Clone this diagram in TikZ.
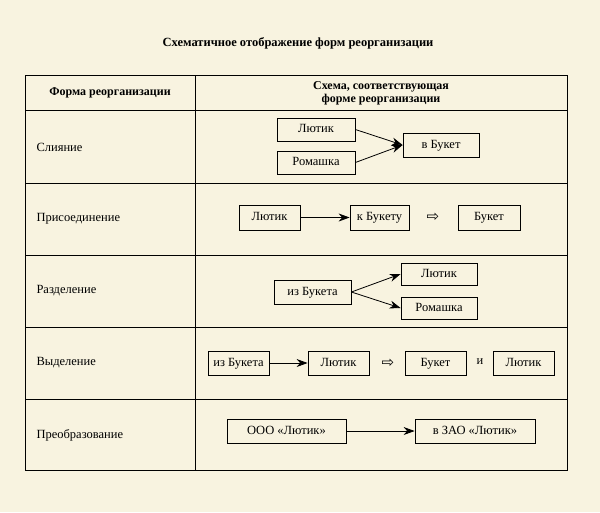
\documentclass[tikz,border=0pt]{standalone}
\usepackage{fontspec}
\setmainfont{Liberation Serif}
\newfontfamily\symfont{DejaVu Sans}
\usetikzlibrary{arrows.meta}
\definecolor{paper}{HTML}{F8F3E0}
\tikzset{
  box/.style={draw, line width=0.8pt, inner sep=0pt, text height=8.5pt, text depth=2.5pt, font=\fontsize{12.5}{14}\selectfont},
  lbl/.style={anchor=west, font=\fontsize{12.5}{14}\selectfont},
  arr/.style={-{Stealth[length=11pt,width=8pt]}, line width=0.8pt}
}
\begin{document}
\begin{tikzpicture}[x=1pt,y=-1pt]
\fill[paper] (0,0) rectangle (600,512);
\useasboundingbox (0,0) rectangle (600,512);
\node[font=\bfseries\fontsize{12.5}{14}\selectfont] (title) at (298,43) {Схематичное отображение форм реорганизации};
% table
\draw[line width=0.8pt] (25,75) rectangle (567,470);
\draw[line width=0.8pt] (195,75)--(195,470);
\foreach \y in {110,183,255,327,399}
  \draw[line width=0.8pt] (25,\y)--(567,\y);
\node[font=\bfseries\fontsize{12}{13}\selectfont] (h1) at (110,93) {Форма реорганизации};
\node[font=\bfseries\fontsize{12}{13}\selectfont, align=center] (h2) at (381,93) {Схема, соответствующая\\форме реорганизации};
\node[lbl] (r1) at (33,147) {Слияние};
\node[lbl] (r2) at (33,219) {Присоединение};
\node[lbl] (r3) at (33,291) {Разделение};
\node[lbl] (r4) at (33,363) {Выделение};
\node[lbl] (r5) at (33,435) {Преобразование};
% merger
\node[box, minimum width=78pt, minimum height=23pt] (lut1) at (316,129.5) {Лютик};
\node[box, minimum width=78pt, minimum height=23pt] (rom1) at (316,162.5) {Ромашка};
\node[box, minimum width=76pt, minimum height=24pt] (buk1) at (441,145) {в Букет};
\draw[arr] (lut1.east)--(buk1.west);
\draw[arr] (rom1.east)--(buk1.west);
% joining
\node[box, minimum width=61pt, minimum height=25pt] (lut2) at (269.5,217.5) {Лютик};
\node[box, minimum width=59pt, minimum height=25pt] (buk2) at (379.5,217.5) {к Букету};
\node[font=\symfont\fontsize{15}{16}\selectfont] (imp2) at (433,217) {⇨};
\node[box, minimum width=62pt, minimum height=25pt] (res2) at (489,217.5) {Букет};
\draw[arr] (lut2)--(buk2);
% division
\node[box, minimum width=77pt, minimum height=24pt] (buk3) at (312.5,292) {из Букета};
\node[box, minimum width=76pt, minimum height=22pt] (lut3) at (439,274) {Лютик};
\node[box, minimum width=76pt, minimum height=22pt] (rom3) at (439,308) {Ромашка};
\draw[arr] (buk3.east)--(lut3.west);
\draw[arr] (buk3.east)--(rom3.west);
% separation
\node[box, minimum width=61pt, minimum height=24pt] (buk4) at (238.5,363) {из Букета};
\node[box, minimum width=61pt, minimum height=24pt] (lut4) at (338.5,363) {Лютик};
\node[font=\symfont\fontsize{15}{16}\selectfont] (imp4) at (388,363) {⇨};
\node[box, minimum width=61pt, minimum height=24pt] (res4) at (435.5,363) {Букет};
\node[font=\fontsize{12.5}{14}\selectfont] (and4) at (480,362) {и};
\node[box, minimum width=61pt, minimum height=24pt] (out4) at (523.5,363) {Лютик};
\draw[arr] (buk4)--(lut4);
% transformation
\node[box, minimum width=119pt, minimum height=24pt] (ooo5) at (286.5,431) {ООО «Лютик»};
\node[box, minimum width=120pt, minimum height=24pt] (zao5) at (475,431) {в ЗАО «Лютик»};
\draw[arr] (ooo5)--(zao5);
\end{tikzpicture}
\end{document}
